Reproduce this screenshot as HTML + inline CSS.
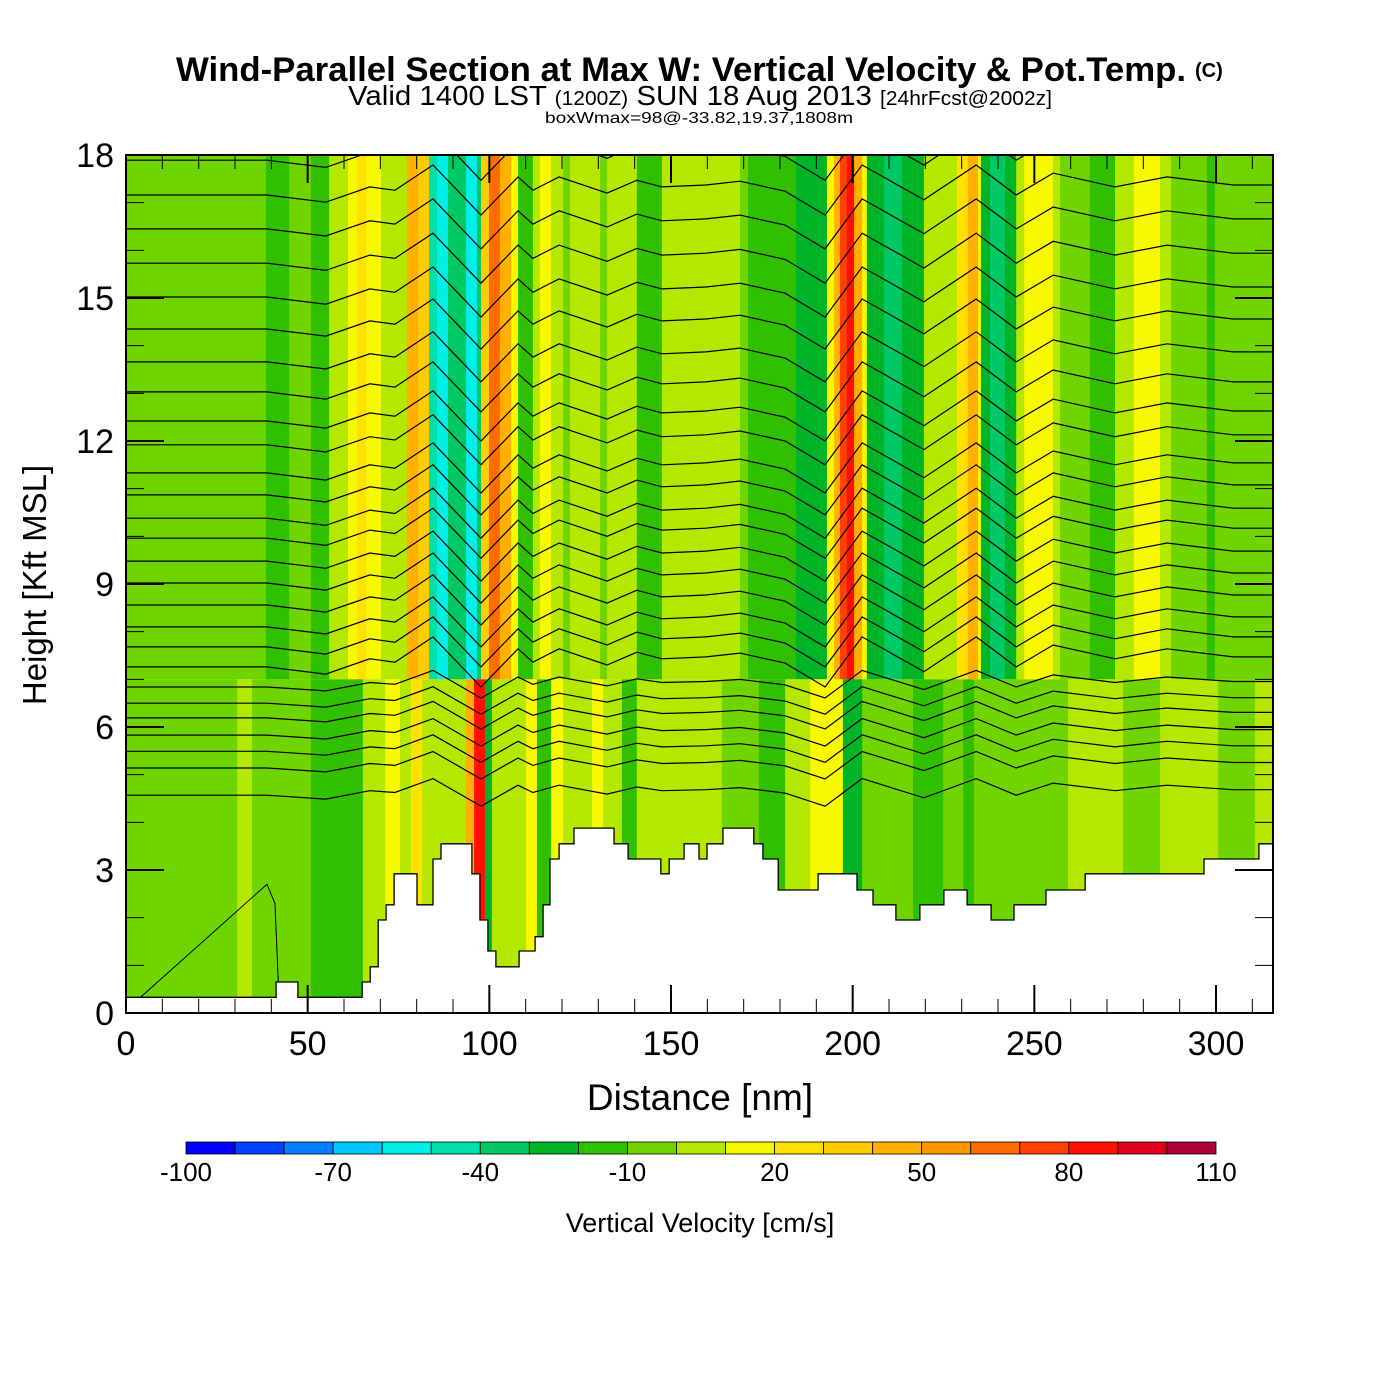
<!DOCTYPE html>
<html><head><meta charset="utf-8"><title>Wind-Parallel Section</title>
<style>
html,body{margin:0;padding:0;background:#fff;}
svg{display:block;}
text{font-family:"Liberation Sans",Arial,sans-serif;}
</style></head>
<body>
<svg id="chart" width="1400" height="1400" viewBox="0 0 1400 1400" xmlns="http://www.w3.org/2000/svg">
  <rect x="0" y="0" width="1400" height="1400" fill="#fff"/>
  <text x="176" y="81" font-size="34" font-weight="bold" textLength="1010" lengthAdjust="spacingAndGlyphs">Wind-Parallel Section at Max W: Vertical Velocity &amp; Pot.Temp.</text>
  <text x="1195" y="77" font-size="20" font-weight="bold">(C)</text>
  <text x="348" y="105" font-size="28" textLength="704" lengthAdjust="spacingAndGlyphs">Valid 1400 LST <tspan font-size="20">(1200Z)</tspan> SUN 18 Aug 2013 <tspan font-size="20">[24hrFcst@2002z]</tspan></text>
  <text x="545" y="123" font-size="16" textLength="308" lengthAdjust="spacingAndGlyphs">boxWmax=98@-33.82,19.37,1808m</text>
  <defs><clipPath id="plotclip"><rect x="126" y="155" width="1147" height="858"/></clipPath></defs>
  <g id="field" clip-path="url(#plotclip)"></g>
  <g id="contours" clip-path="url(#plotclip)"></g>
  <g id="terrain" clip-path="url(#plotclip)"></g>
  <g id="axes"></g>
  <text x="700" y="1110" text-anchor="middle" font-size="37">Distance [nm]</text>
  <text transform="translate(46,585) rotate(-90)" text-anchor="middle" font-size="33">Height [Kft MSL]</text>
  <g id="colorbar"></g>
  <text x="700" y="1232" text-anchor="middle" font-size="27">Vertical Velocity [cm/s]</text>
</svg>
<script>
// ---- data ----
const binColors = ["#0000ff","#0040ff","#0080ff","#00c8ff","#00f0e8","#00e0a8","#00c864","#00b428","#30c000","#70d400","#b4e800","#f8f800","#ffe000","#ffcc00","#ffb000","#ff9800","#ff6c00","#ff4000","#ff1000","#e0001c","#b00038"];
const cbTickValues = [-100,-70,-40,-10,20,50,80,110];
const xTickValues = [0,50,100,150,200,250,300];
const yTickValues = [0,3,6,9,12,15,18];
// upper-level (7-18 kft) vertical velocity bands: edges in nm, values in cm/s
const upperEdges = [0,38.5,44.9,50.9,55.9,61.1,63.6,66.1,70.2,77.3,80.4,83.4,85.6,88.6,93.6,96.6,97.7,99.9,102.9,106.0,107.9,112.0,113.9,117.0,120.3,122.2,130.5,132.4,140.6,147.5,169.0,171.2,184.4,192.9,194.9,196.5,198.4,200.4,202.6,203.9,208.6,213.6,219.6,228.7,231.7,234.5,235.3,237.8,241.9,245.0,247.2,255.1,257.1,265.3,272.2,277.4,284.6,287.6,297.5,299.7,315.7];
const upperW = [-5,-15,-5,-15,5,15,25,15,5,45,35,-45,-55,-35,-55,-35,35,65,40,15,-15,5,15,5,-5,5,-5,5,-15,5,-5,-15,-25,15,40,75,85,45,15,-25,-35,-25,5,25,40,15,-25,-35,-25,5,15,5,-5,-15,5,15,5,-5,-15,-5];
// low-level (0-7 kft) bands
const lowerEdges = [0,30.6,34.7,50.9,52.8,63,65.2,71.3,75.4,78.4,81.5,93.6,95.8,98.8,100.7,110.1,113.1,117,120.3,128.3,131.3,136.5,140.6,164,174.2,181.4,188.3,197.3,202.6,216.6,224.9,230.4,233.4,259.3,274.4,284.6,300.6,310.7,315.7];
const lowerW = [-5,5,-5,-15,-15,-15,5,15,5,25,5,40,85,-25,5,15,-15,15,5,15,5,-15,5,-5,-15,5,15,-25,-5,-15,-5,-15,-5,5,-5,5,-5,5];
const splitHeight = 7;
// terrain steps: start distance (nm) and height (kft)
const terrainX = [0,41.3,47.3,65,67.2,69.4,71.6,73.8,80.1,84.5,86.7,95.2,97.4,99.6,101.8,108.2,112.6,114.8,116.7,119.2,123.3,134.3,138.2,147.2,149.5,153.6,157.7,159.9,164.3,172.8,175.3,179.5,190.5,201.2,205.6,211.9,218.5,225.1,231.5,238.1,244.4,253.2,264.0,296.7,311.8];
const terrainH = [0.33,0.65,0.33,0.65,0.97,1.95,2.27,2.92,2.27,3.23,3.55,2.92,1.95,1.3,0.97,1.3,1.6,2.27,3.23,3.55,3.88,3.55,3.23,2.92,3.23,3.55,3.23,3.55,3.88,3.55,3.23,2.58,2.92,2.58,2.27,1.95,2.27,2.58,2.27,1.95,2.27,2.58,2.92,3.23,3.55];
// potential temperature contour base heights (kft at left edge)
const thetaLevels = [17.89,17.16,16.45,15.73,15.02,14.35,13.66,13.03,12.42,11.92,11.33,10.87,10.38,9.96,9.48,9.02,8.56,8.10,7.68,7.26,6.84,6.50,6.19,5.83,5.49,5.14,4.57];
// wave displacement profile (nm, kft)
const waveX = [0,38.8,55.0,67.1,74.0,84.5,97.7,107.9,112.0,119.2,132.4,140.6,147.5,159.6,169.0,181.4,192.4,202.6,219.6,234.0,245.0,255.2,272.2,286.5,304.7,316];
const waveD = [0,0,-0.15,0.17,0.1,0.63,-0.42,0.38,0.1,0.38,0.04,0.31,0.17,0.21,0.29,0.08,-0.42,0.63,-0.1,0.63,0,0.46,0.17,0.38,0.21,0.21];

// ---- scales ----
const X0=126, X1=1273, Y0=1013, Y1=155;
const xScale = nm => X0 + nm*(1216-126)/300;
const yScale = k => Y0 - k*(Y0-Y1)/18;
const colorFor = w => { let i = Math.floor((w+100)/10); i=Math.max(0,Math.min(20,i)); return binColors[i]; };
const NS="http://www.w3.org/2000/svg";
function mk(tag, attrs, parent){ const e=document.createElementNS(NS,tag); for(const k in attrs) e.setAttribute(k,attrs[k]); parent.appendChild(e); return e; }

// ---- field ----
const field=document.getElementById('field');
for(let i=0;i<upperW.length;i++){
  const xa=xScale(upperEdges[i]), xb=xScale(upperEdges[i+1]);
  const r=mk('rect',{x:xa,y:yScale(18),width:xb-xa+0.6,height:yScale(splitHeight)-yScale(18),fill:colorFor(upperW[i])},field);
  
  
}
for(let i=0;i<lowerW.length;i++){
  const xa=xScale(lowerEdges[i]), xb=xScale(lowerEdges[i+1]);
  const r=mk('rect',{x:xa,y:yScale(splitHeight),width:xb-xa+0.6,height:yScale(0)-yScale(splitHeight),fill:colorFor(lowerW[i])},field);
  
  
}

// ---- contours ----
const cont=document.getElementById('contours');
thetaLevels.forEach(L=>{
  const amp = L>7 ? 1 : 0.55;
  let d='';
  waveX.forEach((x,j)=>{ d += (j?'L':'M') + xScale(x).toFixed(1)+','+yScale(L+amp*waveD[j]).toFixed(1); });
  const p=mk('path',{d:d,fill:'none',stroke:'#000','stroke-width':1.2},cont);
  
  
});
const diag=mk('path',{d:'M'+xScale(4)+','+yScale(0.33)+' L'+xScale(38.8)+','+yScale(2.7)+' L'+xScale(41)+','+yScale(2.3)+' L'+xScale(42)+','+yScale(0.5),fill:'none',stroke:'#000','stroke-width':1},cont);



// ---- terrain ----
const ter=document.getElementById('terrain');
let td='M'+xScale(0)+','+yScale(0);
for(let i=0;i<terrainX.length;i++){
  const xa=xScale(terrainX[i]);
  const xb= i+1<terrainX.length ? xScale(terrainX[i+1]) : X1+2;
  td+=' L'+xa.toFixed(1)+','+yScale(terrainH[i]).toFixed(1)+' L'+xb.toFixed(1)+','+yScale(terrainH[i]).toFixed(1);
}
td+=' L'+(X1+2)+','+yScale(0)+' Z';
const tp=mk('path',{d:td,fill:'#fff',stroke:'#000','stroke-width':1.3},ter);



// ---- axes ----
const ax=document.getElementById('axes');
const frame=mk('rect',{x:X0,y:Y1,width:X1-X0,height:Y0-Y1,fill:'none',stroke:'#000','stroke-width':2},ax);


for(let v=0; v<=315; v+=10){
  const x=xScale(v), major = v%50===0, len = major?28:14;
  const t1=mk('line',{x1:x,y1:Y0,x2:x,y2:Y0-len,stroke:'#000','stroke-width':major?2:1},ax);
  
  
  const t2=mk('line',{x1:x,y1:Y1,x2:x,y2:Y1+len,stroke:'#000','stroke-width':major?2:1},ax);
  
  
}
for(let v=0; v<=18; v+=1){
  const y=yScale(v), major=v%3===0, len=major?38:18;
  const t1=mk('line',{x1:X0,y1:y,x2:X0+len,y2:y,stroke:'#000','stroke-width':major?2:1},ax);
  
  
  const t2=mk('line',{x1:X1,y1:y,x2:X1-len,y2:y,stroke:'#000','stroke-width':major?2:1},ax);
  
  
}
xTickValues.forEach(v=>{
  const t=mk('text',{x:xScale(v),y:1055,'text-anchor':'middle','font-size':34},ax);
  t.textContent=v;
  
  
});
yTickValues.forEach(v=>{
  const t=mk('text',{x:114,y:yScale(v)+12,'text-anchor':'end','font-size':34},ax);
  t.textContent=v;
  
  
});

// ---- colorbar ----
const cb=document.getElementById('colorbar');
const cbX0=186, cbX1=1216, cbY=1142, cbH=12;
const cbW=(cbX1-cbX0)/binColors.length;
binColors.forEach((c,i)=>{
  const r=mk('rect',{x:cbX0+i*cbW,y:cbY,width:cbW,height:cbH,fill:c,stroke:'#000','stroke-width':0.8},cb);
  
  
});
const cbScale = v => cbX0 + (v+100)/210*(cbX1-cbX0);
cbTickValues.forEach(v=>{
  const t=mk('text',{x:cbScale(v),y:1181,'text-anchor':'middle','font-size':26},cb);
  t.textContent=v;
  
  
});
</script>
</body></html>
